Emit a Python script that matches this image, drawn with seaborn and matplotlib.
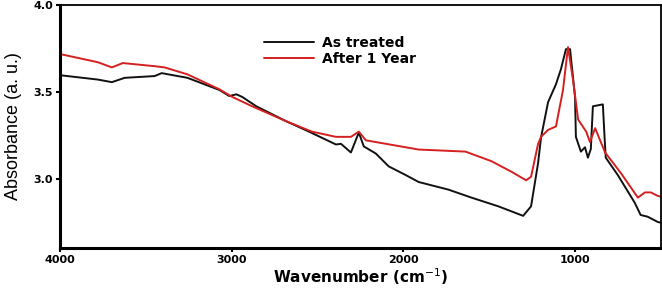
import numpy as np
import pandas as pd
import matplotlib
matplotlib.use("Agg")
import matplotlib.pyplot as plt
import seaborn as sns

wn_treated = [4000, 3780, 3698, 3623, 3449, 3408, 3258, 3072, 3014, 2973, 2939, 2857,
              2683, 2550, 2393, 2364, 2306, 2260, 2231, 2161, 2086, 1987, 1912, 1738,
              1604, 1448, 1303, 1257, 1216, 1199, 1158, 1112, 1083, 1054, 1030, 1001,
              996, 967, 943, 926, 909, 897, 839, 827, 822, 752, 653, 619, 578, 520, 500]
abs_treated = [3.595, 3.57, 3.555, 3.58, 3.59, 3.607, 3.58, 3.51, 3.475, 3.485, 3.47, 3.416,
               3.33, 3.27, 3.196, 3.20, 3.15, 3.265, 3.185, 3.144, 3.07, 3.02, 2.98, 2.936,
               2.89, 2.84, 2.785, 2.84, 3.09, 3.236, 3.44, 3.543, 3.63, 3.745, 3.745, 3.47,
               3.24, 3.155, 3.18, 3.12, 3.17, 3.416, 3.427, 3.20, 3.12, 3.02, 2.86, 2.79, 2.78, 2.75, 2.745]

wn_year = [4000, 3780, 3698, 3634, 3449, 3391, 3258, 3072, 2997, 2881, 2683, 2533,
           2393, 2306, 2260, 2219, 2103, 1912, 1639, 1488, 1373, 1286, 1257, 1216,
           1199, 1158, 1112, 1071, 1042, 1013, 983, 936, 914, 884, 826, 733, 635,
           594, 559, 520, 500]
abs_year = [3.717, 3.67, 3.64, 3.665, 3.647, 3.64, 3.60, 3.514, 3.47, 3.416, 3.33, 3.27,
            3.24, 3.24, 3.27, 3.22, 3.20, 3.167, 3.155, 3.10, 3.04, 2.99, 3.01, 3.20,
            3.24, 3.28, 3.30, 3.51, 3.757, 3.57, 3.34, 3.27, 3.21, 3.29, 3.15, 3.03, 2.89,
            2.92, 2.92, 2.90, 2.895]

df = pd.concat([
    pd.DataFrame({'wn': wn_treated, 'abs': abs_treated, 'sample': 'As treated'}),
    pd.DataFrame({'wn': wn_year, 'abs': abs_year, 'sample': 'After 1 Year'}),
])

sns.set_style('ticks')
plt.rcParams['font.family'] = ['DejaVu Sans']
plt.rcParams['text.color'] = 'black'
plt.rcParams['axes.labelcolor'] = 'black'

fig = plt.figure(figsize=(6.62, 2.88), dpi=100)
ax = fig.add_axes([0.0906, 0.139, 0.908, 0.844])

sns.lineplot(data=df, x='wn', y='abs', hue='sample', sort=False,
             palette={'As treated': '#111111', 'After 1 Year': '#d42020'},
             linewidth=1.4, ax=ax)

ax.set_xlim(4000, 500)
ax.set_ylim(2.6, 4.0)
ax.set_xticks([4000, 3000, 2000, 1000])
ax.set_yticks([3.0, 3.5, 4.0])
ax.set_yticklabels(['3.0', '3.5', '4.0'])
for lab in ax.get_xticklabels() + ax.get_yticklabels():
    lab.set_fontweight('bold')
    lab.set_fontsize(8)
ax.tick_params(direction='out', length=3, width=1.5, pad=2, colors='black')

for s in ['left', 'bottom']:
    ax.spines[s].set_linewidth(2.2)
for s in ['top', 'right']:
    ax.spines[s].set_linewidth(1.3)
    ax.spines[s].set_visible(True)
for s in ax.spines.values():
    s.set_color('black')

ax.set_xlabel('Wavenumber (cm$^{-1}$)', fontsize=11, fontweight='bold', labelpad=1)
ax.set_ylabel('Absorbance (a. u.)', fontsize=13,
              family=['Liberation Sans Narrow', 'Liberation Sans', 'DejaVu Sans'], labelpad=8)

ax.legend(loc='upper left', bbox_to_anchor=(0.328, 0.9), frameon=False,
          prop={'weight': 'bold', 'size': 10}, borderpad=0, labelspacing=0.1,
          handlelength=3.6, handletextpad=0.6)

fig.savefig('out.png', dpi=100)
